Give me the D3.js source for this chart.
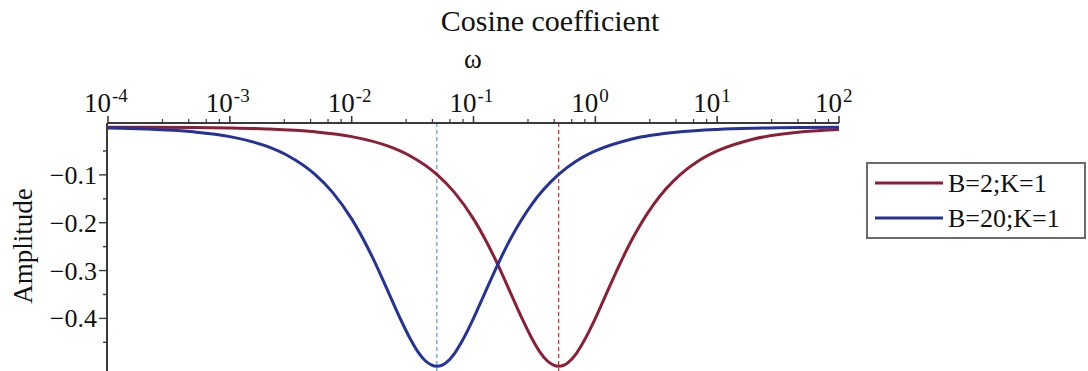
<!DOCTYPE html>
<html>
<head>
<meta charset="utf-8">
<script src="https://cdn.jsdelivr.net/npm/d3@7"></script>
<style>
  html, body { margin: 0; padding: 0; background: #fff; }
  svg { display: block; font-family: "Liberation Serif", "Times New Roman", serif; }
</style>
</head>
<body>
<svg id="chart" width="1088" height="371"></svg>
<script>
// Frequency samples (ω) and cosine-coefficient amplitudes for each parameter set
const omegaB2 = [1e-4, 2e-4, 5e-4, 1e-3, 2e-3, 5e-3, 0.01, 0.02, 0.03, 0.05, 0.07, 0.1, 0.15, 0.2, 0.25, 0.3, 0.35, 0.4, 0.45, 0.5, 0.55, 0.6, 0.7, 0.8, 1, 1.2, 1.5, 2, 3, 5, 7, 10, 20, 50, 100];
const ampB2   = [-0.0002, -0.0004, -0.001, -0.002, -0.004, -0.010, -0.020, -0.040, -0.060, -0.099, -0.137, -0.192, -0.275, -0.345, -0.400, -0.441, -0.470, -0.488, -0.497, -0.500, -0.498, -0.492, -0.473, -0.449, -0.400, -0.355, -0.300, -0.235, -0.162, -0.099, -0.071, -0.050, -0.025, -0.010, -0.005];

const omegaB20 = [1e-4, 2e-4, 5e-4, 1e-3, 2e-3, 3e-3, 5e-3, 7e-3, 0.01, 0.015, 0.02, 0.025, 0.03, 0.035, 0.04, 0.045, 0.05, 0.055, 0.06, 0.07, 0.08, 0.1, 0.12, 0.15, 0.2, 0.3, 0.5, 0.7, 1, 2, 5, 10, 20, 50, 100];
const ampB20   = [-0.002, -0.004, -0.010, -0.020, -0.040, -0.060, -0.099, -0.137, -0.192, -0.275, -0.345, -0.400, -0.441, -0.470, -0.488, -0.497, -0.500, -0.498, -0.492, -0.473, -0.449, -0.400, -0.355, -0.300, -0.235, -0.162, -0.099, -0.071, -0.050, -0.025, -0.010, -0.005, -0.0025, -0.001, -0.0005];

const seriesNames = ["B=2;K=1", "B=20;K=1"];
const seriesColors = ["#8c1f36", "#25329a"];
const peakOmega = [0.5, 0.05];          // ω = 1/B, where each curve bottoms out
const peakColors = ["#d42a2a", "#5b95d0"];

const xTickExponents = [-4, -3, -2, -1, 0, 1, 2];
const yTickValues = [-0.1, -0.2, -0.3, -0.4];
const yMinorValues = [-0.05, -0.15, -0.25, -0.35, -0.45];

const titleText = "Cosine coefficient";
const xLabelText = "ω";
const yLabelText = "Amplitude";

const svg = d3.select("#chart");

const x = d3.scaleLog().domain([1e-4, 1e2]).range([108, 839]);
const y = d3.scaleLinear().domain([0.0085, -0.51]).range([123, 371]);

// log-axis minor ticks: each decade split into five equal linear steps
const xMinor = [];
for (let e = -4; e < 2; e++) {
  [2.8, 4.6, 6.4, 8.2].forEach(m => xMinor.push(m * Math.pow(10, e)));
}

const axisColor = "#3a3a3a";
const textColor = "#111";

// reference lines at the curve minima
svg.append("g").selectAll("line").data(peakOmega).join("line")
  .attr("x1", d => x(d)).attr("x2", d => x(d))
  .attr("y1", y(0.0085)).attr("y2", 371)
  .attr("stroke", (d, i) => peakColors[i])
  .attr("stroke-width", 1.2)
  .attr("stroke-dasharray", "4,3");

// x axis along the top
const gx = svg.append("g").attr("transform", `translate(0,${y(0.0085)})`);
gx.append("line").attr("x1", x(1e-4)).attr("x2", x(1e2))
  .attr("stroke", axisColor).attr("stroke-width", 2);
gx.selectAll(".minor").data(xMinor).join("line").attr("class", "minor")
  .attr("x1", d => x(d)).attr("x2", d => x(d))
  .attr("y1", 0).attr("y2", -4)
  .attr("stroke", axisColor).attr("stroke-width", 1.2);
gx.selectAll(".major").data(xTickExponents).join("line").attr("class", "major")
  .attr("x1", d => x(Math.pow(10, d))).attr("x2", d => x(Math.pow(10, d)))
  .attr("y1", 0).attr("y2", -7)
  .attr("stroke", axisColor).attr("stroke-width", 1.6);

// tick labels: "10" ends at the tick, exponent raised just after it
const xl = gx.selectAll(".lab").data(xTickExponents).join("g").attr("class", "lab")
  .attr("transform", d => `translate(${x(Math.pow(10, d)) + 3},-11)`);
xl.append("text").attr("text-anchor", "end")
  .attr("font-size", 27).attr("fill", textColor).text("10");
xl.append("text").attr("x", 1).attr("y", -10)
  .attr("font-size", 19).attr("fill", textColor).text(d => d);

// y axis on the left
const gy = svg.append("g").attr("transform", `translate(107,0)`);
gy.append("line").attr("y1", y(0.0085)).attr("y2", 371)
  .attr("stroke", axisColor).attr("stroke-width", 2);
gy.selectAll(".minor").data(yMinorValues).join("line").attr("class", "minor")
  .attr("x1", 0).attr("x2", -4).attr("y1", d => y(d)).attr("y2", d => y(d))
  .attr("stroke", axisColor).attr("stroke-width", 1.4);
gy.selectAll(".major").data(yTickValues).join("line").attr("class", "major")
  .attr("x1", 0).attr("x2", -8).attr("y1", d => y(d)).attr("y2", d => y(d))
  .attr("stroke", axisColor).attr("stroke-width", 1.4);
gy.selectAll(".lab").data(yTickValues).join("text").attr("class", "lab")
  .attr("x", -10).attr("y", d => y(d))
  .attr("dy", "0.35em")
  .attr("text-anchor", "end")
  .attr("font-size", 26)
  .attr("fill", textColor)
  .text(d => "\u2212" + d3.format(".1f")(Math.abs(d)));

// curves
const line = d3.line()
  .x(d => x(d[0]))
  .y(d => y(d[1]))
  .curve(d3.curveMonotoneX);
const series = [
  d3.zip(omegaB2, ampB2),
  d3.zip(omegaB20, ampB20)
];
svg.append("g").selectAll("path").data(series).join("path")
  .attr("d", line)
  .attr("fill", "none")
  .attr("stroke", (d, i) => seriesColors[i])
  .attr("stroke-width", 3)
  .attr("stroke-linejoin", "round");

// titles
svg.append("text").attr("x", 550).attr("y", 31)
  .attr("text-anchor", "middle").attr("font-size", 30).attr("fill", textColor)
  .text(titleText);
svg.append("text").attr("x", 473).attr("y", 68)
  .attr("text-anchor", "middle").attr("font-size", 27).attr("fill", textColor)
  .text(xLabelText);
svg.append("text")
  .attr("transform", "translate(32,246) rotate(-90)")
  .attr("text-anchor", "middle").attr("font-size", 27).attr("fill", textColor)
  .text(yLabelText);

// legend
const lg = svg.append("g");
lg.append("rect").attr("x", 867).attr("y", 163).attr("width", 218).attr("height", 75)
  .attr("fill", "#fff").attr("stroke", "#6b6b6b").attr("stroke-width", 2);
const rows = lg.selectAll(".row").data(seriesNames).join("g").attr("class", "row")
  .attr("transform", (d, i) => `translate(0,${183 + i * 35})`);
rows.append("line").attr("x1", 875).attr("x2", 943).attr("y1", 0).attr("y2", 0)
  .attr("stroke", (d, i) => seriesColors[i]).attr("stroke-width", 3);
rows.append("text").attr("x", 948).attr("y", 0).attr("dy", "0.35em")
  .attr("font-size", 26).attr("fill", textColor)
  .text(d => d);
</script>
</body>
</html>
